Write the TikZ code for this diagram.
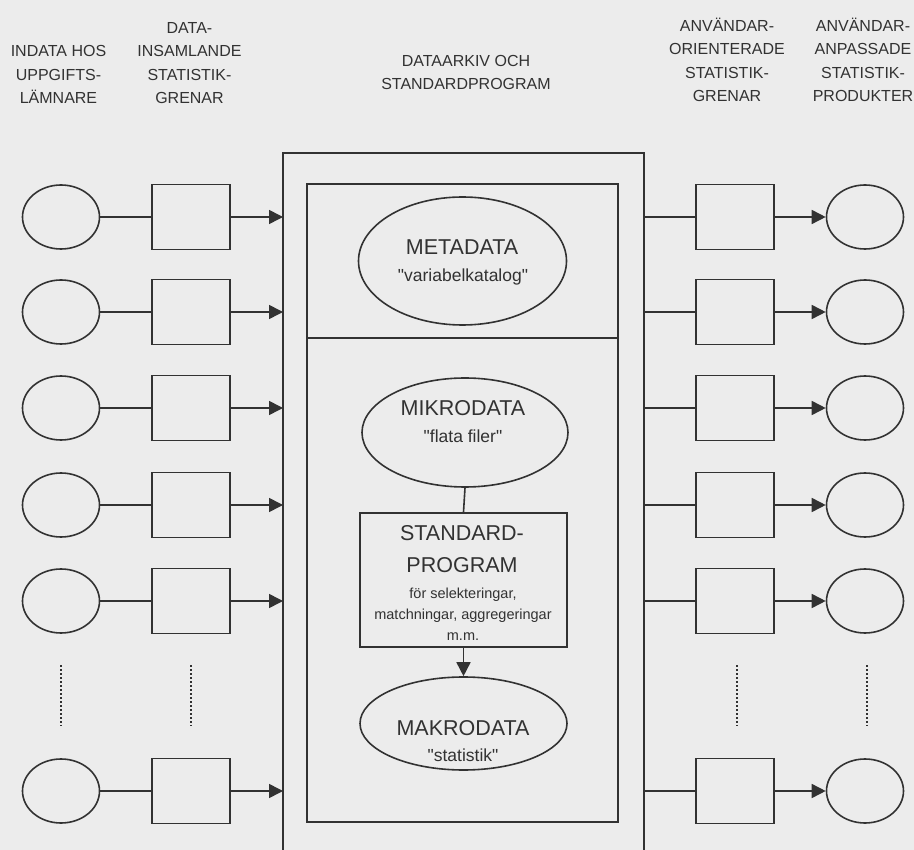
\documentclass[tikz,border=0pt]{standalone}
\usepackage{fontspec}
\setmainfont{Liberation Sans}[Ligatures=TeXOff]
\usetikzlibrary{shapes.geometric,arrows.meta}
\definecolor{ink}{RGB}{50,50,50}
\definecolor{paper}{RGB}{236,236,236}
\tikzset{
  conn/.style={draw=ink, line width=1.6pt},
  arr/.style={conn, -{Triangle[length=14pt,width=14pt]}},
  oval/.style={draw=ink, line width=1.6pt, ellipse, inner sep=0pt, minimum width=77pt, minimum height=64pt},
  sbox/.style={draw=ink, line width=1.6pt, rectangle, inner sep=0pt, minimum width=78pt, minimum height=65pt},
  head/.style={text=ink, align=center, font=\fontsize{16}{23.5}\selectfont, inner sep=0pt, anchor=base},
  big/.style={text=ink, font=\fontsize{21.5}{26}\selectfont, inner sep=0pt, anchor=base},
  quot/.style={text=ink, font=\fontsize{17.5}{21}\selectfont, inner sep=0pt, anchor=base},
  tiny/.style={text=ink, font=\fontsize{14.5}{18}\selectfont, inner sep=0pt, anchor=base},
  dotline/.style={draw=ink, line width=2pt, dash pattern=on 2pt off 2pt},
}
\begin{document}
\begin{tikzpicture}[x=1pt,y=-1pt]
\fill[paper] (0,0) rectangle (914,850);
\useasboundingbox (0,0) rectangle (914,850);

% headers (base anchor = baseline of the last line)
\node[head] (h1) at (58.5,104) {INDATA HOS\\UPPGIFTS-\\LÄMNARE};
\node[head] (h2) at (189.5,104) {DATA-\\INSAMLANDE\\STATISTIK-\\GRENAR};
\node[head] (h3) at (466,90) {DATAARKIV OCH\\STANDARDPROGRAM};
\node[head] (h4) at (727,102) {ANVÄNDAR-\\ORIENTERADE\\STATISTIK-\\GRENAR};
\node[head] (h5) at (863,102) {ANVÄNDAR-\\ANPASSADE\\STATISTIK-\\PRODUKTER};

% outer frame (open at the bottom)
\draw[conn] (283,852) |- (644,153) -- (644,852);

% inner frame with divider
\node[draw=ink, line width=1.6pt, rectangle, inner sep=0pt, minimum width=311pt, minimum height=638pt] (inner) at (462.5,503) {};
\coordinate (divL) at (307,338);
\coordinate (divR) at (618,338);
\draw[conn] (divL) -- (divR);

% rows
\foreach \i/\y in {1/217,2/312,3/408,4/505,5/601,6/791}{
  \node[oval] (L\i) at (61,\y) {};
  \node[sbox] (B\i) at (191,\y) {};
  \coordinate (I\i) at (283,\y);
  \draw[conn] (L\i) -- (B\i);
  \draw[arr] (B\i) -- (I\i);
  \coordinate (O\i) at (644,\y);
  \node[sbox] (RB\i) at (735,\y) {};
  \node[oval] (RE\i) at (865,\y) {};
  \draw[conn] (O\i) -- (RB\i);
  \draw[arr] (RB\i) -- (RE\i);
}

% continuation dots
\foreach \x/\n in {61/a,191/b,737/c,867/d}{
  \coordinate (dt\n) at (\x,665);
  \coordinate (db\n) at (\x,726);
  \draw[dotline] (dt\n) -- (db\n);
}

% central content
\node[draw=ink, line width=1.6pt, ellipse, inner sep=0pt, minimum width=208pt, minimum height=128pt] (meta) at (462.5,261) {};
\node[big] (metaT) at (462,255) {METADATA};
\node[quot] (metaQ) at (463,282) {"variabelkatalog"};

\node[draw=ink, line width=1.6pt, ellipse, inner sep=0pt, minimum width=206pt, minimum height=109pt] (mikro) at (465,432.5) {};
\node[big] (mikroT) at (463,416) {MIKRODATA};
\node[quot] (mikroQ) at (463,443) {"flata filer"};

\node[draw=ink, line width=1.6pt, rectangle, inner sep=0pt, minimum width=207pt, minimum height=134pt] (std) at (463.5,580) {};
\node[big] (stdA) at (462,540) {STANDARD-};
\node[big] (stdB) at (462,572) {PROGRAM};
\node[tiny] (stdC) at (463,598) {för selekteringar,};
\node[tiny] (stdD) at (463,619) {matchningar, aggregeringar};
\node[tiny] (stdE) at (463,640) {m.m.};

\node[draw=ink, line width=1.6pt, ellipse, inner sep=0pt, minimum width=207pt, minimum height=93pt] (makro) at (463.5,723.5) {};
\node[big] (makroT) at (463,735) {MAKRODATA};
\node[quot] (makroQ) at (463,761) {"statistik"};

\draw[conn] (mikro.south) -- (std.north);
\draw[arr] (std.south) -- (makro.north);
\end{tikzpicture}
\end{document}
